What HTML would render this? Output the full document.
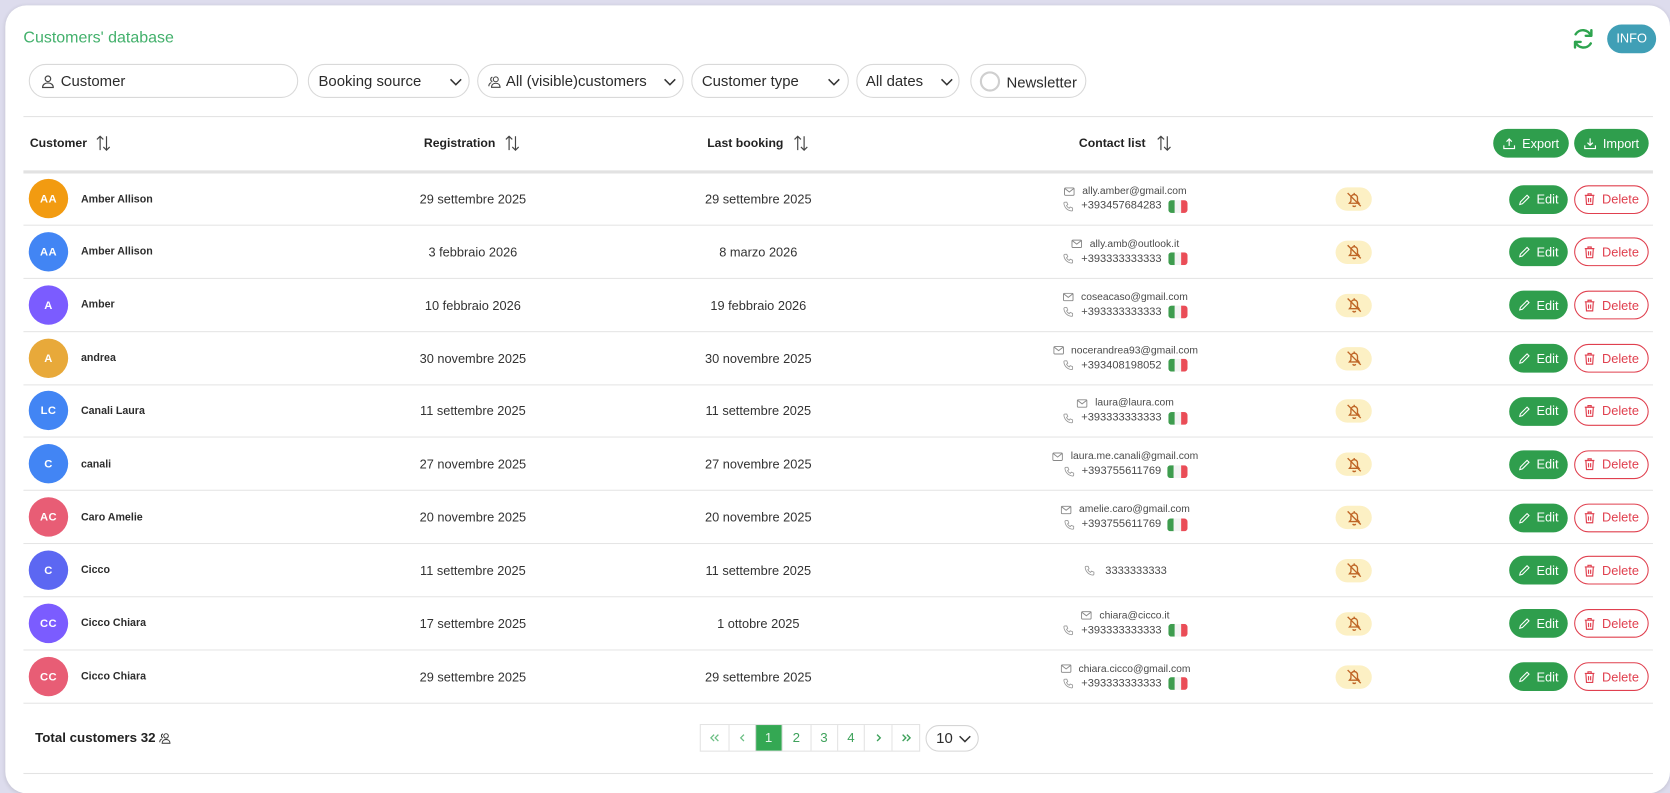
<!DOCTYPE html>
<html><head><meta charset="utf-8"><style>
*{box-sizing:border-box;margin:0;padding:0}
html,body{width:1670px;height:790px;overflow:hidden;background:#dddced;font-family:"Liberation Sans",Arial,sans-serif}
#s{position:absolute;left:0;top:0;width:1568px;height:742px;transform:scale(1.06505,1.06469);transform-origin:0 0}
.a{position:absolute}
.card{position:absolute;left:5px;top:5px;width:1563px;height:740px;background:#fff;border-radius:20px;box-shadow:0 1px 4px rgba(0,0,0,.12)}
.pill{position:absolute;top:60px;height:32px;border:1px solid #d9d9d9;border-radius:16px;font-size:14px;color:#2b2b2b;line-height:30px;white-space:nowrap}
.pill svg{position:absolute}
.hl{position:absolute;left:22px;width:1530px;height:1px;background:#e3e3e3}
.th{position:absolute;top:128px;font-size:11.5px;font-weight:bold;color:#222;line-height:15px;white-space:nowrap}
.sort{position:absolute;top:127px}
.btn{position:absolute;height:27px;border-radius:14px;display:flex;align-items:center;justify-content:center;gap:6px;font-size:12px;white-space:nowrap}
.g{background:#2f9e4d;color:#fff}
.r{background:#fff;color:#e0404f;border:1px solid #e0404f}
.row{position:absolute;left:22px;width:1530px;height:50px;border-bottom:1px solid #e5e5e5}
.av{position:absolute;left:5px;top:6px;width:37px;height:37px;border-radius:50%;color:#fff;font-size:10.5px;font-weight:bold;text-align:center;line-height:39px;letter-spacing:.3px}
.nm{position:absolute;left:54px;top:18.5px;font-size:10px;font-weight:bold;color:#2d2d2d;line-height:14px;white-space:nowrap}
.dt{position:absolute;width:240px;top:18px;font-size:12px;color:#333;line-height:14px;text-align:center;white-space:nowrap}
.d1{left:302px}
.d2{left:570px}
.ct{position:absolute;left:914.7px;width:240px;white-space:nowrap;color:#4a4a4a;line-height:13px;height:13px;display:flex;justify-content:center;align-items:center}
.em{top:11px;font-size:9.7px}
.ph{top:25px;font-size:10.4px}
.ct svg{margin-right:7px;flex:none}
.bell{position:absolute;left:1232px;top:14px;width:34px;height:22px;border-radius:11px;background:#fcf0c4;display:flex;align-items:center;justify-content:center}
.ed{left:1395px;top:11.5px;width:55px}
.de{left:1456px;top:11.5px;width:70px}
.flag{display:inline-flex;width:18.5px;height:12px;border-radius:3px;overflow:hidden;margin-left:6px;flex:none}
.flag i{flex:1}
.pg{height:24px;border-left:1px solid #e3e3e3;display:flex;align-items:center;justify-content:center;color:#3fa25c;font-size:12.5px}
.pg:first-child{border-left:none}
</style></head><body>
<div id="s">
<div class="card"></div>

<div class="a" style="left:22px;top:27px;font-size:15px;color:#42b06b;line-height:18px;white-space:nowrap">Customers' database</div>

<svg class="a" style="left:1475px;top:25px" width="23" height="23" viewBox="0 0 24 24" fill="none" stroke="#2ea44f" stroke-width="2.4" stroke-linecap="round" stroke-linejoin="round">
<path d="M19.5 9A8.3 8.3 0 0 0 4.6 7.5"/><path d="M20 3.5V9h-5.5"/>
<path d="M4.5 15A8.3 8.3 0 0 0 19.4 16.5"/><path d="M4 20.5V15h5.5"/>
</svg>
<div class="a" style="left:1509px;top:23px;width:46px;height:27px;border-radius:14px;background:#409fb6;color:#fff;font-size:12px;line-height:27px;text-align:center">INFO</div>

<!-- filters -->
<div class="pill" style="left:27px;width:253px">
<svg style="left:11px;top:9px" width="12" height="13" viewBox="0 0 12 13" fill="none" stroke="#444" stroke-width="1.1"><circle cx="6" cy="4" r="2.6"/><path d="M1 12.2c0-2.8 2.2-4.3 5-4.3s5 1.5 5 4.3z"/></svg>
<span style="position:absolute;left:29px">Customer</span></div>

<div class="pill" style="left:289px;width:152px"><span style="position:absolute;left:9px">Booking source</span>
<svg style="left:132px;top:12px" width="12" height="8" viewBox="0 0 12 8"><path d="M1 1.5l5 5 5-5" fill="none" stroke="#333" stroke-width="1.4"/></svg></div>

<div class="pill" style="left:448px;width:194px">
<svg style="left:9px;top:10px" width="13" height="12" viewBox="0 0 13 12" fill="none" stroke="#444" stroke-width="1"><circle cx="7.5" cy="3.5" r="2.3"/><path d="M3.5 11c0-2.5 1.8-3.8 4-3.8s4 1.3 4 3.8z"/><path d="M4.3 1.4a2.2 2.2 0 0 0 0 4.2M1 10c0-2 1-3 2.3-3.4"/></svg>
<span style="position:absolute;left:26px">All (visible)customers</span>
<svg style="left:174px;top:12px" width="12" height="8" viewBox="0 0 12 8"><path d="M1 1.5l5 5 5-5" fill="none" stroke="#333" stroke-width="1.4"/></svg></div>

<div class="pill" style="left:649px;width:148px"><span style="position:absolute;left:9px">Customer type</span>
<svg style="left:127px;top:12px" width="12" height="8" viewBox="0 0 12 8"><path d="M1 1.5l5 5 5-5" fill="none" stroke="#333" stroke-width="1.4"/></svg></div>

<div class="pill" style="left:804px;width:97px"><span style="position:absolute;left:8px">All dates</span>
<svg style="left:78px;top:12px" width="12" height="8" viewBox="0 0 12 8"><path d="M1 1.5l5 5 5-5" fill="none" stroke="#333" stroke-width="1.4"/></svg></div>

<div class="pill" style="left:911px;width:109px">
<span style="position:absolute;left:8px;top:6px;width:19px;height:19px;border:2px solid #cfcfcf;border-radius:50%"></span>
<span style="position:absolute;left:33px;top:1px">Newsletter</span></div>

<div class="hl" style="top:109px"></div>

<!-- header -->
<div class="th" style="left:28px">Customer</div>
<svg class="sort" style="left:90px" width="14" height="15" viewBox="0 0 14 15" fill="none" stroke="#444" stroke-width="1.1"><path d="M4 14V1M1 4l3-3 3 3M10 1v13M7 11l3 3 3-3"/></svg>
<div class="th" style="left:398px">Registration</div>
<svg class="sort" style="left:474px" width="14" height="15" viewBox="0 0 14 15" fill="none" stroke="#444" stroke-width="1.1"><path d="M4 14V1M1 4l3-3 3 3M10 1v13M7 11l3 3 3-3"/></svg>
<div class="th" style="left:664px">Last booking</div>
<svg class="sort" style="left:745px" width="14" height="15" viewBox="0 0 14 15" fill="none" stroke="#444" stroke-width="1.1"><path d="M4 14V1M1 4l3-3 3 3M10 1v13M7 11l3 3 3-3"/></svg>
<div class="th" style="left:1013px">Contact list</div>
<svg class="sort" style="left:1086px" width="14" height="15" viewBox="0 0 14 15" fill="none" stroke="#444" stroke-width="1.1"><path d="M4 14V1M1 4l3-3 3 3M10 1v13M7 11l3 3 3-3"/></svg>

<div class="btn g" style="left:1402px;top:121px;width:71px"><svg width="12" height="12" viewBox="0 0 12 12" fill="none" stroke="#fff" stroke-width="1.1"><path d="M6 8V1.5M3.5 4L6 1.5 8.5 4M1 7.5v3h10v-3"/></svg>Export</div>
<div class="btn g" style="left:1478px;top:121px;width:70px"><svg width="12" height="12" viewBox="0 0 12 12" fill="none" stroke="#fff" stroke-width="1.1"><path d="M6 1v6.5M3.5 5L6 7.5 8.5 5M1 7.5v3h10v-3"/></svg>Import</div>

<div class="a" style="left:22px;top:160px;width:1530px;height:3px;background:#e2e2e2"></div>

<!-- rows -->
<div class="row" style="top:162px">
<div class="av" style="background:#f29b11">AA</div><div class="nm">Amber Allison</div>
<div class="dt d1">29 settembre 2025</div><div class="dt d2">29 settembre 2025</div>
<div class="ct em"><svg width="10" height="8" viewBox="0 0 10 8" fill="none" stroke="#888" stroke-width=".9"><rect x=".5" y=".5" width="9" height="7" rx="1"/><path d="M.8 1l4.2 3.3L9.2 1"/></svg>ally.amber@gmail.com</div>
<div class="ct ph"><svg width="10" height="10" viewBox="0 0 11 11" fill="none" stroke="#999" stroke-width=".9"><path d="M2 1h2l1 2.5-1.3 1a6 6 0 0 0 2.8 2.8l1-1.3L10 7v2a1 1 0 0 1-1 1A8.5 8.5 0 0 1 1 2a1 1 0 0 1 1-1z"/></svg>+393457684283<span class="flag"><i style="background:#3e9c4e"></i><i style="background:#f3f3f3"></i><i style="background:#ea4d57"></i></span></div>
<div class="bell"><svg width="17" height="17" viewBox="0 0 16 16" fill="none" stroke="#bf6526" stroke-width="1.2"><path d="M3.8 11.2h8.4l-1.3-1.7V6.5A2.9 2.9 0 0 0 8 3.5a2.9 2.9 0 0 0-2.9 3v3z"/><path d="M6.7 13.2a1.4 1.4 0 0 0 2.6 0"/><path d="M8 2v1.5"/><path d="M2.2 2.2l11.6 11.6"/></svg></div>
<div class="btn g ed"><svg width="11" height="11" viewBox="0 0 12 12" fill="none" stroke="#fff" stroke-width="1.1"><path d="M8.5 1.5l2 2-6.8 6.8-2.7.7.7-2.7z"/></svg>Edit</div>
<div class="btn r de"><svg width="11" height="12" viewBox="0 0 11 12" fill="none" stroke="#e0404f" stroke-width="1.1"><path d="M1 2.5h9M4 2.5V1h3v1.5M2 2.5l.6 8.5h5.8l.6-8.5M4.5 5v4M6.5 5v4"/></svg>Delete</div>
</div>

<div class="row" style="top:211.85px">
<div class="av" style="background:#4285f4">AA</div><div class="nm">Amber Allison</div>
<div class="dt d1">3 febbraio 2026</div><div class="dt d2">8 marzo 2026</div>
<div class="ct em"><svg width="10" height="8" viewBox="0 0 10 8" fill="none" stroke="#888" stroke-width=".9"><rect x=".5" y=".5" width="9" height="7" rx="1"/><path d="M.8 1l4.2 3.3L9.2 1"/></svg>ally.amb@outlook.it</div>
<div class="ct ph"><svg width="10" height="10" viewBox="0 0 11 11" fill="none" stroke="#999" stroke-width=".9"><path d="M2 1h2l1 2.5-1.3 1a6 6 0 0 0 2.8 2.8l1-1.3L10 7v2a1 1 0 0 1-1 1A8.5 8.5 0 0 1 1 2a1 1 0 0 1 1-1z"/></svg>+393333333333<span class="flag"><i style="background:#3e9c4e"></i><i style="background:#f3f3f3"></i><i style="background:#ea4d57"></i></span></div>
<div class="bell"><svg width="17" height="17" viewBox="0 0 16 16" fill="none" stroke="#bf6526" stroke-width="1.2"><path d="M3.8 11.2h8.4l-1.3-1.7V6.5A2.9 2.9 0 0 0 8 3.5a2.9 2.9 0 0 0-2.9 3v3z"/><path d="M6.7 13.2a1.4 1.4 0 0 0 2.6 0"/><path d="M8 2v1.5"/><path d="M2.2 2.2l11.6 11.6"/></svg></div>
<div class="btn g ed"><svg width="11" height="11" viewBox="0 0 12 12" fill="none" stroke="#fff" stroke-width="1.1"><path d="M8.5 1.5l2 2-6.8 6.8-2.7.7.7-2.7z"/></svg>Edit</div>
<div class="btn r de"><svg width="11" height="12" viewBox="0 0 11 12" fill="none" stroke="#e0404f" stroke-width="1.1"><path d="M1 2.5h9M4 2.5V1h3v1.5M2 2.5l.6 8.5h5.8l.6-8.5M4.5 5v4M6.5 5v4"/></svg>Delete</div>
</div>

<div class="row" style="top:261.7px">
<div class="av" style="background:#7b5cff">A</div><div class="nm">Amber</div>
<div class="dt d1">10 febbraio 2026</div><div class="dt d2">19 febbraio 2026</div>
<div class="ct em"><svg width="10" height="8" viewBox="0 0 10 8" fill="none" stroke="#888" stroke-width=".9"><rect x=".5" y=".5" width="9" height="7" rx="1"/><path d="M.8 1l4.2 3.3L9.2 1"/></svg>coseacaso@gmail.com</div>
<div class="ct ph"><svg width="10" height="10" viewBox="0 0 11 11" fill="none" stroke="#999" stroke-width=".9"><path d="M2 1h2l1 2.5-1.3 1a6 6 0 0 0 2.8 2.8l1-1.3L10 7v2a1 1 0 0 1-1 1A8.5 8.5 0 0 1 1 2a1 1 0 0 1 1-1z"/></svg>+393333333333<span class="flag"><i style="background:#3e9c4e"></i><i style="background:#f3f3f3"></i><i style="background:#ea4d57"></i></span></div>
<div class="bell"><svg width="17" height="17" viewBox="0 0 16 16" fill="none" stroke="#bf6526" stroke-width="1.2"><path d="M3.8 11.2h8.4l-1.3-1.7V6.5A2.9 2.9 0 0 0 8 3.5a2.9 2.9 0 0 0-2.9 3v3z"/><path d="M6.7 13.2a1.4 1.4 0 0 0 2.6 0"/><path d="M8 2v1.5"/><path d="M2.2 2.2l11.6 11.6"/></svg></div>
<div class="btn g ed"><svg width="11" height="11" viewBox="0 0 12 12" fill="none" stroke="#fff" stroke-width="1.1"><path d="M8.5 1.5l2 2-6.8 6.8-2.7.7.7-2.7z"/></svg>Edit</div>
<div class="btn r de"><svg width="11" height="12" viewBox="0 0 11 12" fill="none" stroke="#e0404f" stroke-width="1.1"><path d="M1 2.5h9M4 2.5V1h3v1.5M2 2.5l.6 8.5h5.8l.6-8.5M4.5 5v4M6.5 5v4"/></svg>Delete</div>
</div>

<div class="row" style="top:311.55px">
<div class="av" style="background:#e8a93a">A</div><div class="nm">andrea</div>
<div class="dt d1">30 novembre 2025</div><div class="dt d2">30 novembre 2025</div>
<div class="ct em"><svg width="10" height="8" viewBox="0 0 10 8" fill="none" stroke="#888" stroke-width=".9"><rect x=".5" y=".5" width="9" height="7" rx="1"/><path d="M.8 1l4.2 3.3L9.2 1"/></svg>nocerandrea93@gmail.com</div>
<div class="ct ph"><svg width="10" height="10" viewBox="0 0 11 11" fill="none" stroke="#999" stroke-width=".9"><path d="M2 1h2l1 2.5-1.3 1a6 6 0 0 0 2.8 2.8l1-1.3L10 7v2a1 1 0 0 1-1 1A8.5 8.5 0 0 1 1 2a1 1 0 0 1 1-1z"/></svg>+393408198052<span class="flag"><i style="background:#3e9c4e"></i><i style="background:#f3f3f3"></i><i style="background:#ea4d57"></i></span></div>
<div class="bell"><svg width="17" height="17" viewBox="0 0 16 16" fill="none" stroke="#bf6526" stroke-width="1.2"><path d="M3.8 11.2h8.4l-1.3-1.7V6.5A2.9 2.9 0 0 0 8 3.5a2.9 2.9 0 0 0-2.9 3v3z"/><path d="M6.7 13.2a1.4 1.4 0 0 0 2.6 0"/><path d="M8 2v1.5"/><path d="M2.2 2.2l11.6 11.6"/></svg></div>
<div class="btn g ed"><svg width="11" height="11" viewBox="0 0 12 12" fill="none" stroke="#fff" stroke-width="1.1"><path d="M8.5 1.5l2 2-6.8 6.8-2.7.7.7-2.7z"/></svg>Edit</div>
<div class="btn r de"><svg width="11" height="12" viewBox="0 0 11 12" fill="none" stroke="#e0404f" stroke-width="1.1"><path d="M1 2.5h9M4 2.5V1h3v1.5M2 2.5l.6 8.5h5.8l.6-8.5M4.5 5v4M6.5 5v4"/></svg>Delete</div>
</div>

<div class="row" style="top:361.4px">
<div class="av" style="background:#4285f4">LC</div><div class="nm">Canali Laura</div>
<div class="dt d1">11 settembre 2025</div><div class="dt d2">11 settembre 2025</div>
<div class="ct em"><svg width="10" height="8" viewBox="0 0 10 8" fill="none" stroke="#888" stroke-width=".9"><rect x=".5" y=".5" width="9" height="7" rx="1"/><path d="M.8 1l4.2 3.3L9.2 1"/></svg>laura@laura.com</div>
<div class="ct ph"><svg width="10" height="10" viewBox="0 0 11 11" fill="none" stroke="#999" stroke-width=".9"><path d="M2 1h2l1 2.5-1.3 1a6 6 0 0 0 2.8 2.8l1-1.3L10 7v2a1 1 0 0 1-1 1A8.5 8.5 0 0 1 1 2a1 1 0 0 1 1-1z"/></svg>+393333333333<span class="flag"><i style="background:#3e9c4e"></i><i style="background:#f3f3f3"></i><i style="background:#ea4d57"></i></span></div>
<div class="bell"><svg width="17" height="17" viewBox="0 0 16 16" fill="none" stroke="#bf6526" stroke-width="1.2"><path d="M3.8 11.2h8.4l-1.3-1.7V6.5A2.9 2.9 0 0 0 8 3.5a2.9 2.9 0 0 0-2.9 3v3z"/><path d="M6.7 13.2a1.4 1.4 0 0 0 2.6 0"/><path d="M8 2v1.5"/><path d="M2.2 2.2l11.6 11.6"/></svg></div>
<div class="btn g ed"><svg width="11" height="11" viewBox="0 0 12 12" fill="none" stroke="#fff" stroke-width="1.1"><path d="M8.5 1.5l2 2-6.8 6.8-2.7.7.7-2.7z"/></svg>Edit</div>
<div class="btn r de"><svg width="11" height="12" viewBox="0 0 11 12" fill="none" stroke="#e0404f" stroke-width="1.1"><path d="M1 2.5h9M4 2.5V1h3v1.5M2 2.5l.6 8.5h5.8l.6-8.5M4.5 5v4M6.5 5v4"/></svg>Delete</div>
</div>

<div class="row" style="top:411.25px">
<div class="av" style="background:#4285f4">C</div><div class="nm">canali</div>
<div class="dt d1">27 novembre 2025</div><div class="dt d2">27 novembre 2025</div>
<div class="ct em"><svg width="10" height="8" viewBox="0 0 10 8" fill="none" stroke="#888" stroke-width=".9"><rect x=".5" y=".5" width="9" height="7" rx="1"/><path d="M.8 1l4.2 3.3L9.2 1"/></svg>laura.me.canali@gmail.com</div>
<div class="ct ph"><svg width="10" height="10" viewBox="0 0 11 11" fill="none" stroke="#999" stroke-width=".9"><path d="M2 1h2l1 2.5-1.3 1a6 6 0 0 0 2.8 2.8l1-1.3L10 7v2a1 1 0 0 1-1 1A8.5 8.5 0 0 1 1 2a1 1 0 0 1 1-1z"/></svg>+393755611769<span class="flag"><i style="background:#3e9c4e"></i><i style="background:#f3f3f3"></i><i style="background:#ea4d57"></i></span></div>
<div class="bell"><svg width="17" height="17" viewBox="0 0 16 16" fill="none" stroke="#bf6526" stroke-width="1.2"><path d="M3.8 11.2h8.4l-1.3-1.7V6.5A2.9 2.9 0 0 0 8 3.5a2.9 2.9 0 0 0-2.9 3v3z"/><path d="M6.7 13.2a1.4 1.4 0 0 0 2.6 0"/><path d="M8 2v1.5"/><path d="M2.2 2.2l11.6 11.6"/></svg></div>
<div class="btn g ed"><svg width="11" height="11" viewBox="0 0 12 12" fill="none" stroke="#fff" stroke-width="1.1"><path d="M8.5 1.5l2 2-6.8 6.8-2.7.7.7-2.7z"/></svg>Edit</div>
<div class="btn r de"><svg width="11" height="12" viewBox="0 0 11 12" fill="none" stroke="#e0404f" stroke-width="1.1"><path d="M1 2.5h9M4 2.5V1h3v1.5M2 2.5l.6 8.5h5.8l.6-8.5M4.5 5v4M6.5 5v4"/></svg>Delete</div>
</div>

<div class="row" style="top:461.1px">
<div class="av" style="background:#e85d75">AC</div><div class="nm">Caro Amelie</div>
<div class="dt d1">20 novembre 2025</div><div class="dt d2">20 novembre 2025</div>
<div class="ct em"><svg width="10" height="8" viewBox="0 0 10 8" fill="none" stroke="#888" stroke-width=".9"><rect x=".5" y=".5" width="9" height="7" rx="1"/><path d="M.8 1l4.2 3.3L9.2 1"/></svg>amelie.caro@gmail.com</div>
<div class="ct ph"><svg width="10" height="10" viewBox="0 0 11 11" fill="none" stroke="#999" stroke-width=".9"><path d="M2 1h2l1 2.5-1.3 1a6 6 0 0 0 2.8 2.8l1-1.3L10 7v2a1 1 0 0 1-1 1A8.5 8.5 0 0 1 1 2a1 1 0 0 1 1-1z"/></svg>+393755611769<span class="flag"><i style="background:#3e9c4e"></i><i style="background:#f3f3f3"></i><i style="background:#ea4d57"></i></span></div>
<div class="bell"><svg width="17" height="17" viewBox="0 0 16 16" fill="none" stroke="#bf6526" stroke-width="1.2"><path d="M3.8 11.2h8.4l-1.3-1.7V6.5A2.9 2.9 0 0 0 8 3.5a2.9 2.9 0 0 0-2.9 3v3z"/><path d="M6.7 13.2a1.4 1.4 0 0 0 2.6 0"/><path d="M8 2v1.5"/><path d="M2.2 2.2l11.6 11.6"/></svg></div>
<div class="btn g ed"><svg width="11" height="11" viewBox="0 0 12 12" fill="none" stroke="#fff" stroke-width="1.1"><path d="M8.5 1.5l2 2-6.8 6.8-2.7.7.7-2.7z"/></svg>Edit</div>
<div class="btn r de"><svg width="11" height="12" viewBox="0 0 11 12" fill="none" stroke="#e0404f" stroke-width="1.1"><path d="M1 2.5h9M4 2.5V1h3v1.5M2 2.5l.6 8.5h5.8l.6-8.5M4.5 5v4M6.5 5v4"/></svg>Delete</div>
</div>

<div class="row" style="top:510.95px">
<div class="av" style="background:#5c67f2">C</div><div class="nm">Cicco</div>
<div class="dt d1">11 settembre 2025</div><div class="dt d2">11 settembre 2025</div>
<div class="ct ph" style="top:19px"><svg width="10" height="10" viewBox="0 0 11 11" fill="none" stroke="#999" stroke-width=".9"><path d="M2 1h2l1 2.5-1.3 1a6 6 0 0 0 2.8 2.8l1-1.3L10 7v2a1 1 0 0 1-1 1A8.5 8.5 0 0 1 1 2a1 1 0 0 1 1-1z"/></svg><span style="margin-left:3px">3333333333</span></div>
<div class="bell"><svg width="17" height="17" viewBox="0 0 16 16" fill="none" stroke="#bf6526" stroke-width="1.2"><path d="M3.8 11.2h8.4l-1.3-1.7V6.5A2.9 2.9 0 0 0 8 3.5a2.9 2.9 0 0 0-2.9 3v3z"/><path d="M6.7 13.2a1.4 1.4 0 0 0 2.6 0"/><path d="M8 2v1.5"/><path d="M2.2 2.2l11.6 11.6"/></svg></div>
<div class="btn g ed"><svg width="11" height="11" viewBox="0 0 12 12" fill="none" stroke="#fff" stroke-width="1.1"><path d="M8.5 1.5l2 2-6.8 6.8-2.7.7.7-2.7z"/></svg>Edit</div>
<div class="btn r de"><svg width="11" height="12" viewBox="0 0 11 12" fill="none" stroke="#e0404f" stroke-width="1.1"><path d="M1 2.5h9M4 2.5V1h3v1.5M2 2.5l.6 8.5h5.8l.6-8.5M4.5 5v4M6.5 5v4"/></svg>Delete</div>
</div>

<div class="row" style="top:560.8px">
<div class="av" style="background:#7b5cff">CC</div><div class="nm">Cicco Chiara</div>
<div class="dt d1">17 settembre 2025</div><div class="dt d2">1 ottobre 2025</div>
<div class="ct em"><svg width="10" height="8" viewBox="0 0 10 8" fill="none" stroke="#888" stroke-width=".9"><rect x=".5" y=".5" width="9" height="7" rx="1"/><path d="M.8 1l4.2 3.3L9.2 1"/></svg>chiara@cicco.it</div>
<div class="ct ph"><svg width="10" height="10" viewBox="0 0 11 11" fill="none" stroke="#999" stroke-width=".9"><path d="M2 1h2l1 2.5-1.3 1a6 6 0 0 0 2.8 2.8l1-1.3L10 7v2a1 1 0 0 1-1 1A8.5 8.5 0 0 1 1 2a1 1 0 0 1 1-1z"/></svg>+393333333333<span class="flag"><i style="background:#3e9c4e"></i><i style="background:#f3f3f3"></i><i style="background:#ea4d57"></i></span></div>
<div class="bell"><svg width="17" height="17" viewBox="0 0 16 16" fill="none" stroke="#bf6526" stroke-width="1.2"><path d="M3.8 11.2h8.4l-1.3-1.7V6.5A2.9 2.9 0 0 0 8 3.5a2.9 2.9 0 0 0-2.9 3v3z"/><path d="M6.7 13.2a1.4 1.4 0 0 0 2.6 0"/><path d="M8 2v1.5"/><path d="M2.2 2.2l11.6 11.6"/></svg></div>
<div class="btn g ed"><svg width="11" height="11" viewBox="0 0 12 12" fill="none" stroke="#fff" stroke-width="1.1"><path d="M8.5 1.5l2 2-6.8 6.8-2.7.7.7-2.7z"/></svg>Edit</div>
<div class="btn r de"><svg width="11" height="12" viewBox="0 0 11 12" fill="none" stroke="#e0404f" stroke-width="1.1"><path d="M1 2.5h9M4 2.5V1h3v1.5M2 2.5l.6 8.5h5.8l.6-8.5M4.5 5v4M6.5 5v4"/></svg>Delete</div>
</div>

<div class="row" style="top:610.65px">
<div class="av" style="background:#e85d75">CC</div><div class="nm">Cicco Chiara</div>
<div class="dt d1">29 settembre 2025</div><div class="dt d2">29 settembre 2025</div>
<div class="ct em"><svg width="10" height="8" viewBox="0 0 10 8" fill="none" stroke="#888" stroke-width=".9"><rect x=".5" y=".5" width="9" height="7" rx="1"/><path d="M.8 1l4.2 3.3L9.2 1"/></svg>chiara.cicco@gmail.com</div>
<div class="ct ph"><svg width="10" height="10" viewBox="0 0 11 11" fill="none" stroke="#999" stroke-width=".9"><path d="M2 1h2l1 2.5-1.3 1a6 6 0 0 0 2.8 2.8l1-1.3L10 7v2a1 1 0 0 1-1 1A8.5 8.5 0 0 1 1 2a1 1 0 0 1 1-1z"/></svg>+393333333333<span class="flag"><i style="background:#3e9c4e"></i><i style="background:#f3f3f3"></i><i style="background:#ea4d57"></i></span></div>
<div class="bell"><svg width="17" height="17" viewBox="0 0 16 16" fill="none" stroke="#bf6526" stroke-width="1.2"><path d="M3.8 11.2h8.4l-1.3-1.7V6.5A2.9 2.9 0 0 0 8 3.5a2.9 2.9 0 0 0-2.9 3v3z"/><path d="M6.7 13.2a1.4 1.4 0 0 0 2.6 0"/><path d="M8 2v1.5"/><path d="M2.2 2.2l11.6 11.6"/></svg></div>
<div class="btn g ed"><svg width="11" height="11" viewBox="0 0 12 12" fill="none" stroke="#fff" stroke-width="1.1"><path d="M8.5 1.5l2 2-6.8 6.8-2.7.7.7-2.7z"/></svg>Edit</div>
<div class="btn r de"><svg width="11" height="12" viewBox="0 0 11 12" fill="none" stroke="#e0404f" stroke-width="1.1"><path d="M1 2.5h9M4 2.5V1h3v1.5M2 2.5l.6 8.5h5.8l.6-8.5M4.5 5v4M6.5 5v4"/></svg>Delete</div>
</div>

<!-- footer -->
<div class="a" style="left:33px;top:686px;font-size:12.5px;font-weight:bold;color:#222;line-height:14px;white-space:nowrap;display:flex;align-items:center">Total customers 32<svg style="margin-left:3px" width="12" height="11" viewBox="0 0 13 12" fill="none" stroke="#333" stroke-width="1"><circle cx="7.5" cy="3.5" r="2.3"/><path d="M3.5 11c0-2.5 1.8-3.8 4-3.8s4 1.3 4 3.8z"/><path d="M4.3 1.4a2.2 2.2 0 0 0 0 4.2M1 10c0-2 1-3 2.3-3.4"/></svg></div>

<div class="a" style="left:657px;top:680px;height:26px;display:flex;border:1px solid #e3e3e3">
<div class="pg" style="width:25.6px"><svg width="10" height="8" viewBox="0 0 10 8" fill="none" stroke="#6cbf84" stroke-width="1.2"><path d="M4.5 1L1.5 4l3 3M8.5 1l-3 3 3 3"/></svg></div>
<div class="pg" style="width:25.1px"><svg width="6" height="8" viewBox="0 0 6 8" fill="none" stroke="#6cbf84" stroke-width="1.2"><path d="M4.5 1L1.5 4l3 3"/></svg></div>
<div class="pg" style="width:25px;background:#34a853;color:#e8f5ec">1</div>
<div class="pg" style="width:26.9px">2</div>
<div class="pg" style="width:25.1px">3</div>
<div class="pg" style="width:25.6px">4</div>
<div class="pg" style="width:25.7px"><svg width="6" height="8" viewBox="0 0 6 8" fill="none" stroke="#3fa25c" stroke-width="1.3"><path d="M1.5 1l3 3-3 3"/></svg></div>
<div class="pg" style="width:26.3px"><svg width="10" height="8" viewBox="0 0 10 8" fill="none" stroke="#3fa25c" stroke-width="1.3"><path d="M1.5 1l3 3-3 3M5.5 1l3 3-3 3"/></svg></div>
</div>
<div class="a" style="left:869px;top:681px;width:50px;height:25px;border:1px solid #d5d5d5;border-radius:13px;font-size:14px;color:#2b2b2b;line-height:23px">
<span style="position:absolute;left:9px">10</span>
<svg style="position:absolute;left:30px;top:8px" width="12" height="8" viewBox="0 0 12 8"><path d="M1 1.5l5 5 5-5" fill="none" stroke="#333" stroke-width="1.4"/></svg></div>

<div class="hl" style="top:726px"></div>
</div>
</body></html>
